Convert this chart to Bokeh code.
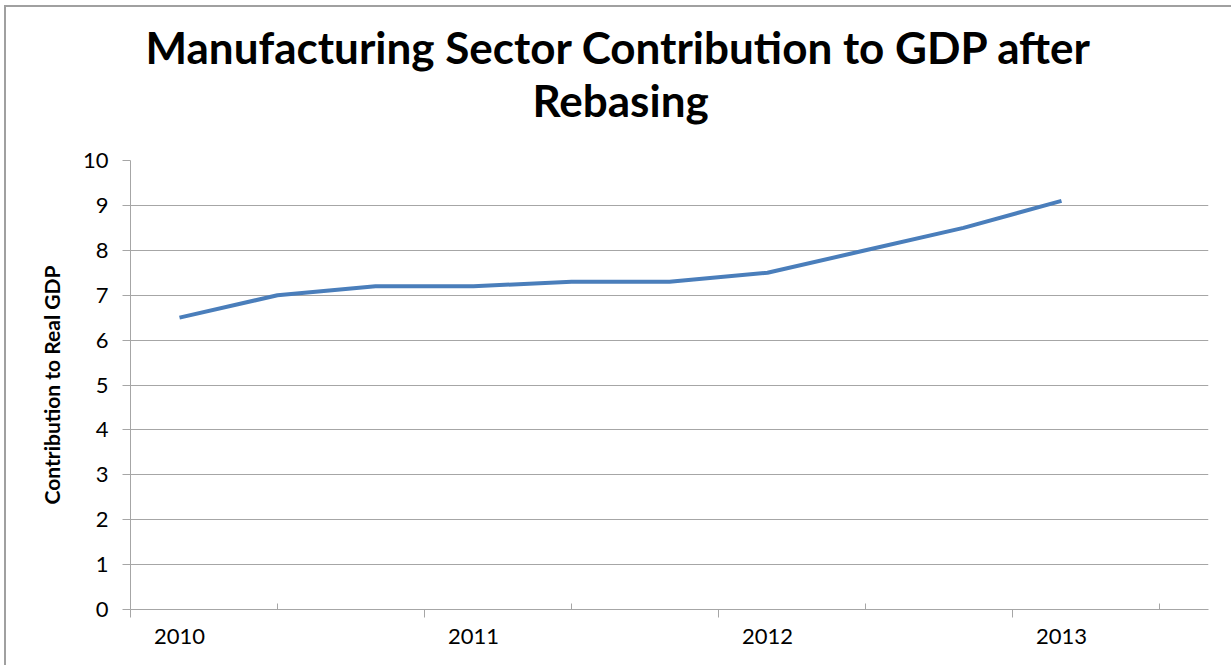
from bokeh.plotting import figure
from bokeh.models import FixedTicker, LinearAxis, Range1d, Title, ColumnDataSource
from bokeh.embed import file_html
from bokeh.resources import INLINE

# ---- data ----
year_labels = ["2010", "2011", "2012", "2013"]
contribution = [6.5, 7.0, 7.2, 7.2, 7.3, 7.3, 7.5, 8.0, 8.5, 9.1]
periods_per_year = 3
n_slots = 11
y_ticks = list(range(0, 11))
title_lines = ["Manufacturing Sector Contribution to GDP after", "Rebasing"]
y_title = "Contribution to Real GDP"

x_pos = [i + 0.5 for i in range(len(contribution))]
src = ColumnDataSource(dict(x=x_pos, y=contribution))

FONT = "Lato"
GRAY = "#a6a6a6"

p = figure(width=1231, height=665, output_backend="svg", toolbar_location=None,
           x_range=Range1d(0, n_slots), y_range=Range1d(0, 10),
           x_axis_location=None, y_axis_location=None,
           min_border_left=130, min_border_right=23, min_border_top=160,
           min_border_bottom=56)
p.outline_line_color = None
p.background_fill_color = "white"
p.border_fill_alpha = 0
p.styles = {"background-color": "white",
            "box-shadow": "inset 4px 5px 0 0 white, inset 6px 7px 0 0 #a0a0a0"}

p.line("x", "y", source=src, line_color="#4a7ebb", line_width=4)

# y axis
yax = LinearAxis(ticker=FixedTicker(ticks=y_ticks, minor_ticks=[]))
yax.axis_line_color = GRAY
yax.major_tick_line_color = GRAY
yax.major_tick_out = 8
yax.major_tick_in = 0
yax.major_label_standoff = 14
yax.major_label_text_font = FONT
yax.major_label_text_font_size = "22px"
yax.major_label_text_color = "#000000"
yax.axis_label = y_title
yax.axis_label_text_font = FONT
yax.axis_label_text_font_style = "bold"
yax.axis_label_text_font_size = "21px"
yax.axis_label_text_color = "#000000"
yax.axis_label_standoff = 16
p.add_layout(yax, "left")

p.ygrid.ticker = FixedTicker(ticks=y_ticks)
p.ygrid.grid_line_color = GRAY
p.xgrid.grid_line_color = None

# x axis: tick marks
major_pos = [i * periods_per_year for i in range(len(year_labels))]
minor_pos = [i * periods_per_year + periods_per_year / 2 for i in range(len(year_labels))]
xax1 = LinearAxis(ticker=FixedTicker(ticks=major_pos, minor_ticks=minor_pos))
xax1.axis_line_color = GRAY
xax1.major_tick_line_color = GRAY
xax1.minor_tick_line_color = GRAY
xax1.major_tick_out = 8
xax1.major_tick_in = 0
xax1.minor_tick_out = 0
xax1.minor_tick_in = 6
xax1.major_label_overrides = {m: "" for m in major_pos}
xax1.major_label_text_font_size = "1px"
xax1.major_label_standoff = 0
p.add_layout(xax1, "below")

# x axis: year labels
label_pos = [i * periods_per_year + 0.5 for i in range(len(year_labels))]
xax2 = LinearAxis(ticker=FixedTicker(ticks=label_pos, minor_ticks=[]))
xax2.axis_line_color = None
xax2.major_tick_line_color = None
xax2.major_tick_out = 0
xax2.major_tick_in = 0
xax2.major_label_overrides = {lp: y for lp, y in zip(label_pos, year_labels)}
xax2.major_label_text_font = FONT
xax2.major_label_text_font_size = "22px"
xax2.major_label_text_color = "#000000"
xax2.major_label_standoff = 11
p.add_layout(xax2, "below")

# titles (left-aligned with offsets so they are centred on the whole chart)
title_offsets = [15, 402]
title_standoffs = [-72, 70]
for t, off, so in reversed(list(zip(title_lines, title_offsets, title_standoffs))):
    tt = Title(text=t, align="left", text_font=FONT, text_font_style="bold",
               text_font_size="44px", text_color="#000000", offset=off,
               standoff=so)
    p.add_layout(tt, "above")

open("out.html", "w").write(file_html(p, INLINE))
